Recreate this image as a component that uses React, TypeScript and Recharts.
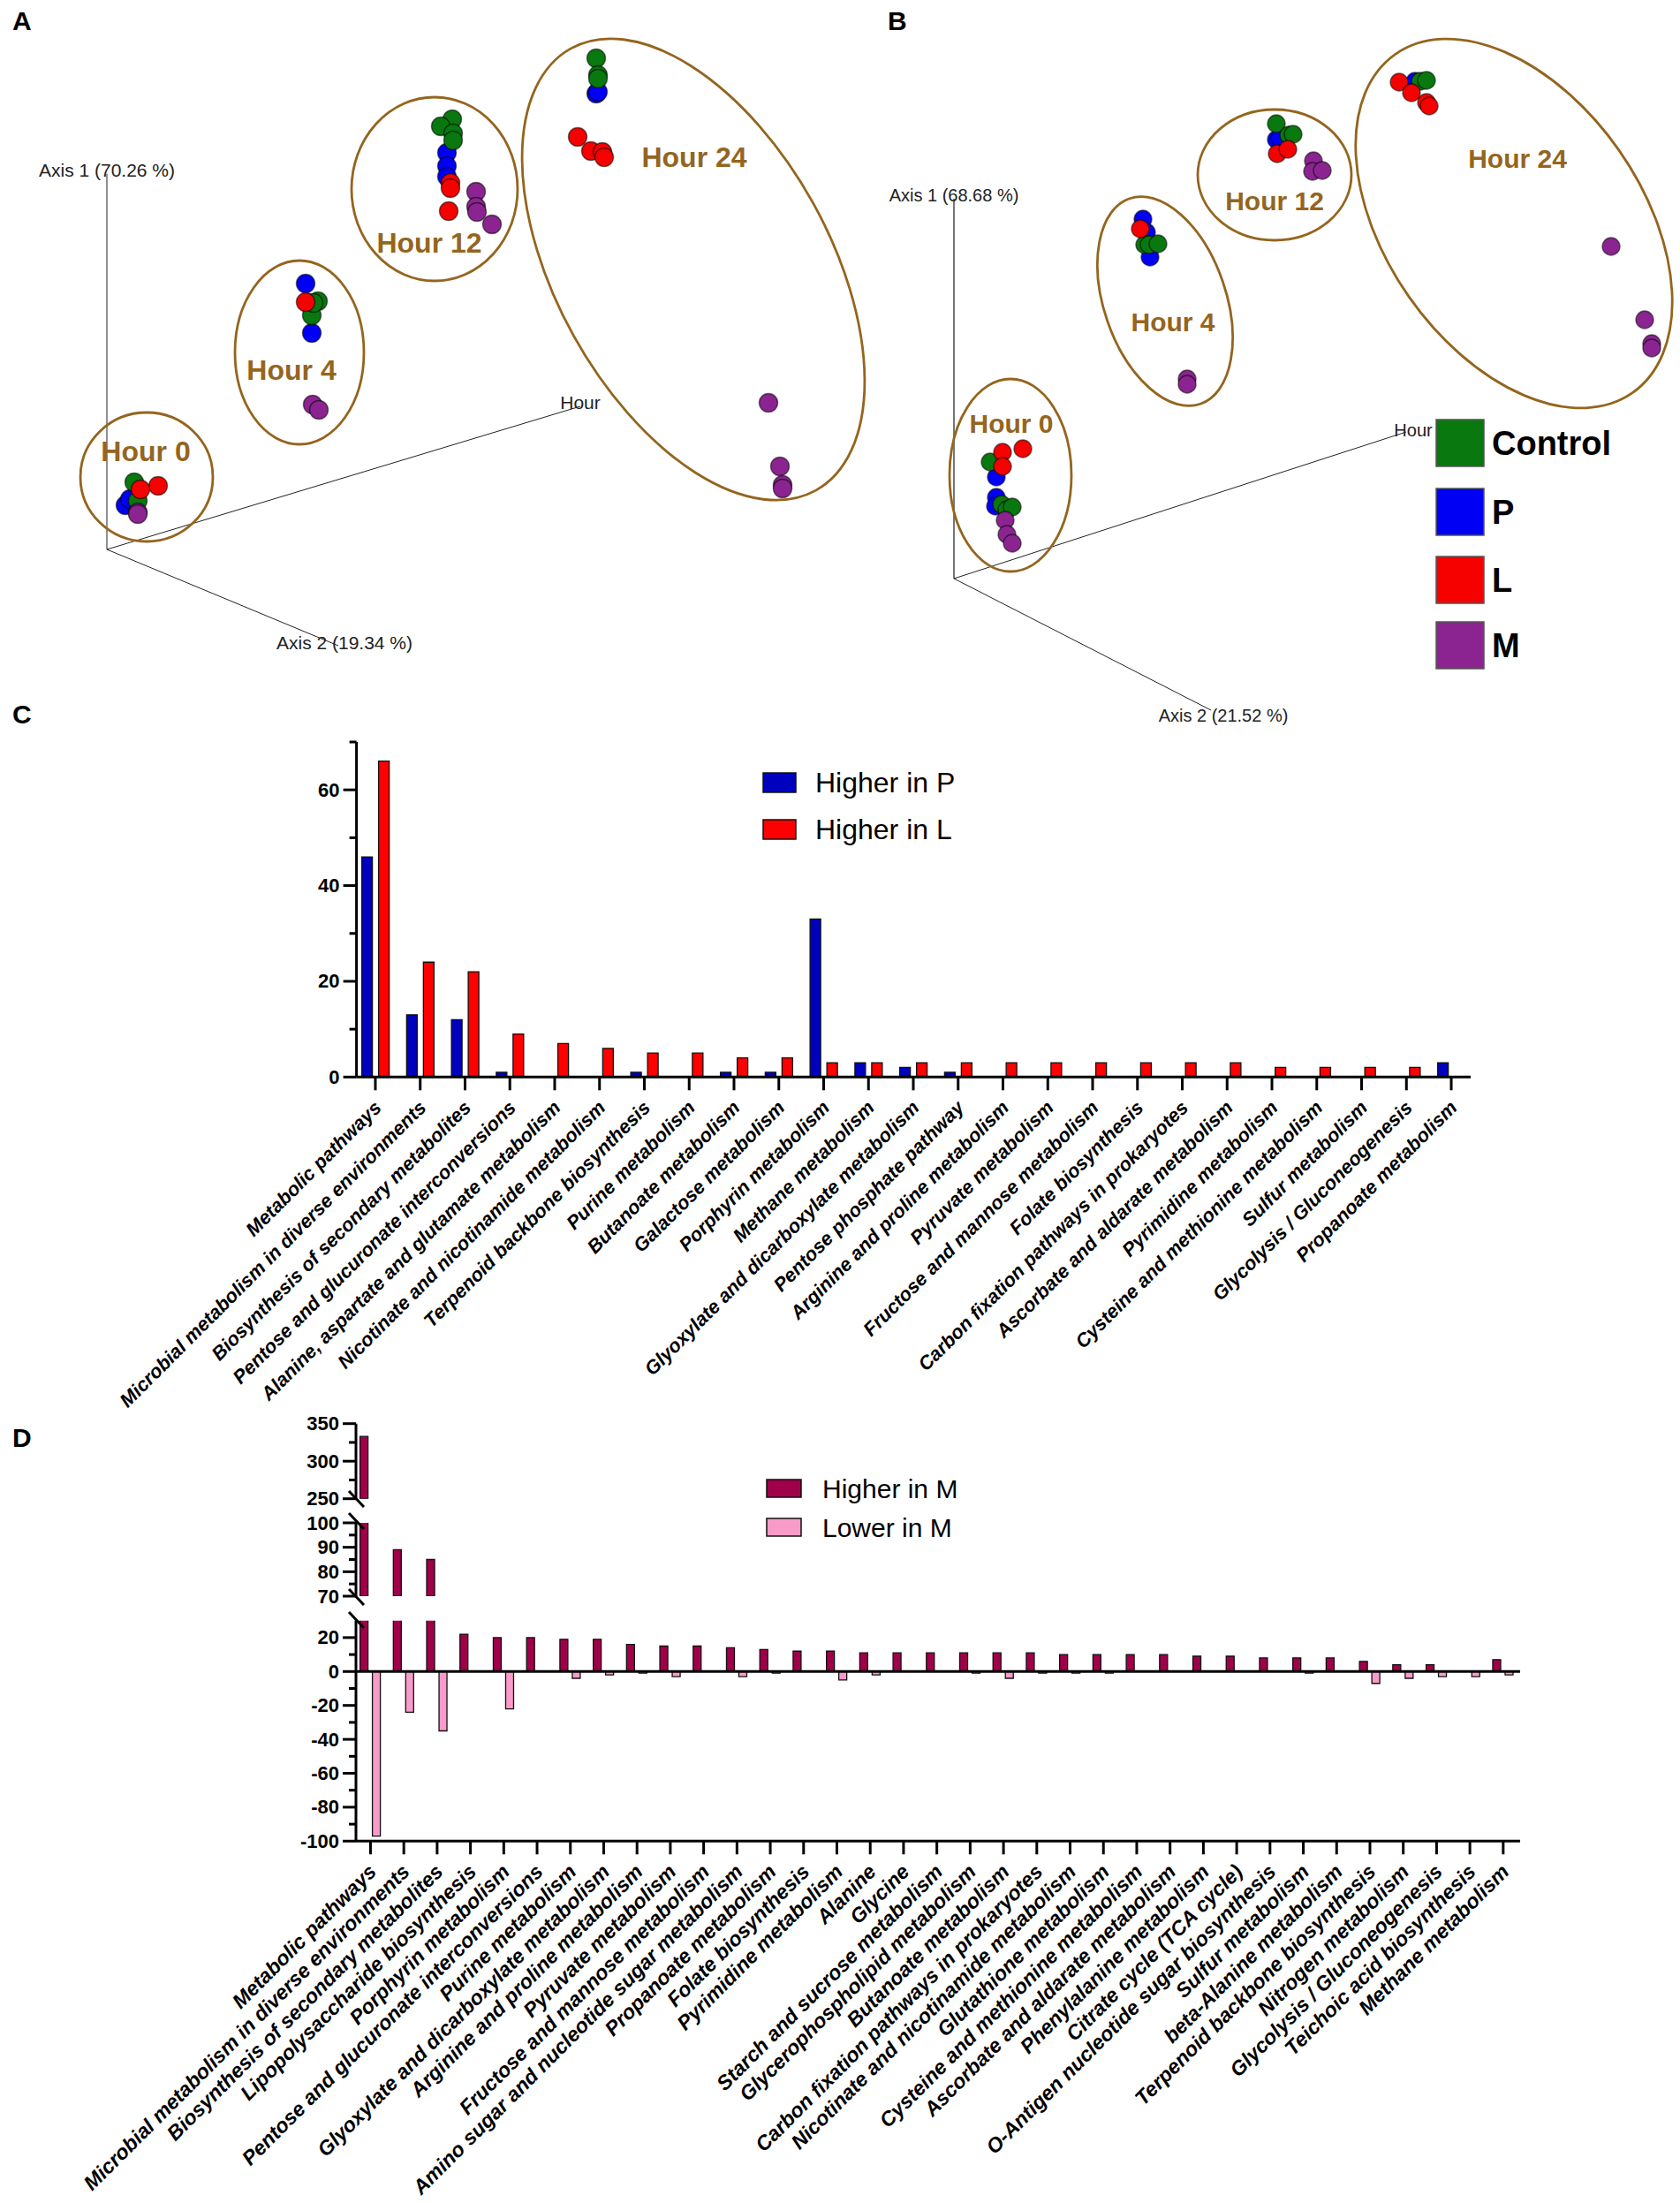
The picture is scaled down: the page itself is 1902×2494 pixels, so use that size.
import {
  BarChart,
  Bar,
  XAxis,
  YAxis,
  ScatterChart,
  Scatter,
  ReferenceLine,
  ReferenceDot,
} from "recharts";

type Pt = [number, number];

// PCoA projections (units: distance from the axes origin)
const greenA: Pt[] = [[31, 76], [35, 55], [239, 281], [232, 265], [234, 279], [391, 487], [378, 479], [392, 471], [392, 463], [554, 556], [556, 537], [556, 533]];
const blueA: Pt[] = [[21, 50], [26, 57], [225, 301], [228, 279], [232, 245], [385, 449], [385, 434], [385, 422], [554, 516], [556, 518]];
const redA: Pt[] = [[58, 72], [38, 68], [225, 280], [389, 415], [389, 409], [387, 383], [533, 467], [548, 451], [561, 450], [563, 444]];
const purpleA: Pt[] = [[35, 42], [35, 40], [233, 164], [240, 158], [418, 405], [418, 388], [419, 382], [436, 368], [749, 166], [762, 94], [765, 73], [765, 69]];

const greenB: Pt[] = [[41, 132], [54, 84], [60, 78], [66, 81], [216, 378], [221, 378], [231, 379], [365, 515], [379, 502], [384, 503], [528, 563], [535, 564]];
const blueB: Pt[] = [[48, 115], [48, 92], [47, 82], [214, 407], [218, 392], [222, 364], [365, 497], [369, 499], [522, 563]];
const redB: Pt[] = [[78, 147], [55, 143], [55, 127], [211, 396], [366, 481], [378, 486], [504, 562], [518, 550], [535, 539], [538, 535]];
const purpleB: Pt[] = [[58, 66], [60, 50], [66, 40], [264, 226], [264, 220], [407, 473], [406, 461], [417, 462], [744, 376], [782, 293], [790, 266], [790, 261]];

const categoriesC = [
  "Metabolic pathways",
  "Microbial metabolism in diverse environments",
  "Biosynthesis of secondary metabolites",
  "Pentose and glucuronate interconversions",
  "Alanine, aspartate and glutamate metabolism",
  "Nicotinate and nicotinamide metabolism",
  "Terpenoid backbone biosynthesis",
  "Purine metabolism",
  "Butanoate metabolism",
  "Galactose metabolism",
  "Porphyrin metabolism",
  "Methane metabolism",
  "Glyoxylate and dicarboxylate metabolism",
  "Pentose phosphate pathway",
  "Arginine and proline metabolism",
  "Pyruvate metabolism",
  "Fructose and mannose metabolism",
  "Folate biosynthesis",
  "Carbon fixation pathways in prokaryotes",
  "Ascorbate and aldarate metabolism",
  "Pyrimidine metabolism",
  "Cysteine and methionine metabolism",
  "Sulfur metabolism",
  "Glycolysis / Gluconeogenesis",
  "Propanoate metabolism",
];
const higherInP = [46, 13, 12, 1, 0, 0, 1, 0, 1, 1, 33, 3, 2, 1, 0, 0, 0, 0, 0, 0, 0, 0, 0, 0, 3];
const higherInL = [66, 24, 22, 9, 7, 6, 5, 5, 4, 4, 3, 3, 3, 3, 3, 3, 3, 3, 3, 3, 2, 2, 2, 2, 0];

const categoriesD = [
  "Metabolic pathways",
  "Microbial metabolism in diverse environments",
  "Biosynthesis of secondary metabolites",
  "Lipopolysaccharide biosynthesis",
  "Porphyrin metabolism",
  "Pentose and glucuronate interconversions",
  "Purine metabolism",
  "Glyoxylate and dicarboxylate metabolism",
  "Arginine and proline metabolism",
  "Pyruvate metabolism",
  "Fructose and mannose metabolism",
  "Amino sugar and nucleotide sugar metabolism",
  "Propanoate metabolism",
  "Folate biosynthesis",
  "Pyrimidine metabolism",
  "Alanine",
  "Glycine",
  "Starch and sucrose metabolism",
  "Glycerophospholipid metabolism",
  "Butanoate metabolism",
  "Carbon fixation pathways in prokaryotes",
  "Nicotinate and nicotinamide metabolism",
  "Glutathione metabolism",
  "Cysteine and methionine metabolism",
  "Ascorbate and aldarate metabolism",
  "Phenylalanine metabolism",
  "Citrate cycle (TCA cycle)",
  "O-Antigen nucleotide sugar biosynthesis",
  "Sulfur metabolism",
  "beta-Alanine metabolism",
  "Terpenoid backbone biosynthesis",
  "Nitrogen metabolism",
  "Glycolysis / Gluconeogenesis",
  "Teichoic acid biosynthesis",
  "Methane metabolism",
];
const higherInM = [333, 89, 85, 22, 20, 20, 19, 19, 16, 15, 15, 14, 13, 12, 12, 11, 11, 11, 11, 11, 11, 10, 10, 10, 10, 9, 9, 8, 8, 8, 6, 4, 4, 0, 7];
const lowerInM = [-97, -24, -35, 0, -22, 0, -4, -2, -1, -3, 0, -3, -1, 0, -5, -2, 0, 0, -1, -4, -1, -1, -1, 0, 0, 0, 0, 0, -1, 0, -7, -4, -3, -3, -2];

const tableC = categoriesC.map((name, i) => ({ name, p: higherInP[i], l: higherInL[i] }));

const FONT = "'Liberation Sans', Arial, sans-serif";
const BROWN = "#94651e";
const GROUP_COLORS = { control: "#08780f", p: "#0000f5", l: "#f60000", m: "#8b2490" };

const toPoints = (pts: Pt[]) => pts.map(([x, y]) => ({ x, y }));

function PointDot(props: any) {
  return (
    <circle
      cx={props.cx}
      cy={props.cy}
      r={props.r}
      fill={props.fill}
      stroke="#000"
      strokeOpacity={0.55}
      strokeWidth={1.4}
    />
  );
}

interface Hoop {
  label: string;
  cx: number;
  cy: number;
  rx: number;
  ry: number;
  angle: number;
  tx: number;
  ty: number;
}

const hoopsA: Hoop[] = [
  { label: "Hour 0", cx: 45, cy: 82, rx: 75, ry: 73, angle: 0, tx: 44, ty: 111 },
  { label: "Hour 4", cx: 218, cy: 223, rx: 73, ry: 104, angle: 0, tx: 209, ty: 203 },
  { label: "Hour 12", cx: 371, cy: 408, rx: 94, ry: 104, angle: 0, tx: 365, ty: 347 },
  { label: "Hour 24", cx: 664, cy: 317, rx: 286, ry: 155, angle: 61, tx: 665, ty: 444 },
];
const hoopsB: Hoop[] = [
  { label: "Hour 0", cx: 64, cy: 117, rx: 69, ry: 109, angle: 0, tx: 65, ty: 176 },
  { label: "Hour 4", cx: 239, cy: 314, rx: 123, ry: 69, angle: 71, tx: 248, ty: 291 },
  { label: "Hour 12", cx: 363, cy: 457, rx: 87, ry: 74, angle: 0, tx: 363, ty: 428 },
  { label: "Hour 24", cx: 634, cy: 402, rx: 234, ry: 145, angle: 55, tx: 638, ty: 476 },
];

interface PanelProps {
  left: number;
  top: number;
  width: number;
  height: number;
  originX: number;
  originY: number;
  groups: Pt[][];
  hoops: Hoop[];
  axisEnds: Pt[];
  axisTexts: { text: string; x: number; y: number; size: number }[];
  axisWidths: number[];
  hourSize: number;
  r: number;
}

function PcoaPanel(p: PanelProps) {
  const x0 = p.originX - p.left;
  const y0 = p.originY - p.top;
  const colors = [GROUP_COLORS.p, GROUP_COLORS.control, GROUP_COLORS.l, GROUP_COLORS.m];
  return (
    <div style={{ position: "absolute", left: p.left, top: p.top }}>
      <ScatterChart width={p.width} height={p.height} margin={{ top: 0, right: 0, bottom: 0, left: 0 }}>
        <XAxis type="number" dataKey="x" hide domain={[-x0, p.width - x0]} />
        <YAxis type="number" dataKey="y" hide domain={[y0 - p.height, y0]} />
        {p.axisEnds.map(([x, y], i) => (
          <ReferenceLine
            key={i}
            segment={[{ x: 0, y: 0 }, { x, y }]}
            stroke={p.axisWidths[i] > 1 ? "#777" : "#222"}
            strokeWidth={p.axisWidths[i]}
            ifOverflow="visible"
          />
        ))}
        {p.axisTexts.map((t) => (
          <ReferenceDot
            key={t.text}
            x={t.x}
            y={t.y}
            ifOverflow="visible"
            shape={(d: any) => (
              <text x={d.cx} y={d.cy} textAnchor="middle" dominantBaseline="central" fontFamily={FONT} fontSize={t.size} fill="#222">
                {t.text}
              </text>
            )}
          />
        ))}
        {p.groups.map((g, i) => (
          <Scatter
            key={i}
            data={toPoints(g)}
            fill={colors[i]}
            isAnimationActive={false}
            shape={(d: any) => <PointDot {...d} r={p.r} fill={colors[i]} />}
          />
        ))}
        {p.hoops.map((h) => (
          <ReferenceDot
            key={h.label}
            x={h.cx}
            y={h.cy}
            ifOverflow="visible"
            shape={(d: any) => (
              <ellipse
                cx={d.cx}
                cy={d.cy}
                rx={h.rx}
                ry={h.ry}
                transform={`rotate(${h.angle} ${d.cx} ${d.cy})`}
                fill="none"
                stroke={BROWN}
                strokeWidth={2.8}
              />
            )}
          />
        ))}
        {p.hoops.map((h) => (
          <ReferenceDot
            key={h.label + "-text"}
            x={h.tx}
            y={h.ty}
            ifOverflow="visible"
            shape={(d: any) => (
              <text x={d.cx} y={d.cy} textAnchor="middle" dominantBaseline="central" fontFamily={FONT} fontWeight="bold" fontSize={p.hourSize} fill={BROWN}>
                {h.label}
              </text>
            )}
          />
        ))}
      </ScatterChart>
    </div>
  );
}

function valueTick(labelled: number[]) {
  return function ValueTick({ x, y, payload }: any) {
    const major = labelled.includes(payload.value);
    return (
      <g>
        <line x1={x - (major ? 15 : 8)} x2={x} y1={y} y2={y} stroke="#000" strokeWidth={3} />
        {major && (
          <text x={x - 19} y={y} textAnchor="end" dominantBaseline="central" fontFamily={FONT} fontWeight="bold" fontSize={22} fill="#000">
            {payload.value}
          </text>
        )}
      </g>
    );
  };
}

function categoryTick(size: number, dx: number, dy: number) {
  return function CategoryTick({ x, y, payload }: any) {
    const tx = x + dx;
    const ty = y + dy;
    return (
      <g>
        <line x1={x} x2={x} y1={y} y2={y + 15} stroke="#000" strokeWidth={3} />
        <text
          x={tx}
          y={ty}
          transform={`rotate(-45 ${tx} ${ty})`}
          textAnchor="end"
          fontFamily={FONT}
          fontWeight="bold"
          fontStyle="italic"
          fontSize={size}
          fill="#000"
        >
          {payload.value}
        </text>
      </g>
    );
  };
}

const TICKS_C = [0, 10, 20, 30, 40, 50, 60, 70];
const TICKS_TOP = [250, 275, 300, 325, 350];
const TICKS_MID = [70, 75, 80, 85, 90, 95, 100];
const TICKS_LOW = [-100, -90, -80, -70, -60, -50, -40, -30, -20, -10, 0, 10, 20];

function PanelC() {
  return (
    <div style={{ position: "absolute", left: 0, top: 820 }}>
      <BarChart
        width={1902}
        height={790}
        data={tableC}
        barSize={12}
        barGap={7}
        margin={{ top: 20, right: 237, bottom: 350.7, left: 343.6 }}
      >
        <XAxis
          dataKey="name"
          height={40}
          interval={0}
          padding={{ left: -4, right: -3.4 }}
          tickSize={0}
          tickMargin={0}
          tickLine={false}
          tick={categoryTick(21.8, 8, 36)}
          axisLine={{ stroke: "#000", strokeWidth: 3 }}
        />
        <YAxis
          width={60}
          domain={[0, 70]}
          ticks={TICKS_C}
          interval={0}
          tickSize={0}
          tickMargin={0}
          tickLine={false}
          tick={valueTick([0, 20, 40, 60])}
          axisLine={{ stroke: "#000", strokeWidth: 3 }}
        />
        <Bar dataKey="p" fill="#0000bf" stroke="#111" strokeWidth={1.3} isAnimationActive={false} />
        <Bar dataKey="l" fill="#ff0000" stroke="#111" strokeWidth={1.3} isAnimationActive={false} />
      </BarChart>
    </div>
  );
}

interface SegmentProps {
  top: number;
  height: number;
  plotTop: number;
  plotBottom: number;
  domain: [number, number];
  ticks: number[];
  labelled: number[];
  showX?: boolean;
}

// One stretch of the broken value axis; bars that do not reach it stay out of its table
function SegmentD(s: SegmentProps) {
  const marginTop = s.plotTop - s.top;
  const below = s.top + s.height - s.plotBottom;
  const table = categoriesD.map((name, i) => ({
    name,
    up: higherInM[i] >= s.domain[0] ? higherInM[i] : null,
    down: s.showX ? lowerInM[i] : null,
  }));
  return (
    <div style={{ position: "absolute", left: 0, top: s.top }}>
      <BarChart
        width={1902}
        height={s.height}
        data={table}
        barSize={9}
        barGap={5}
        margin={{ top: marginTop, right: 181, bottom: s.showX ? below - 40 : below, left: 343 }}
      >
        <XAxis
          dataKey="name"
          hide={!s.showX}
          height={40}
          interval={0}
          padding={{ left: -2.4, right: 0.3 }}
          tickSize={0}
          tickMargin={0}
          tickLine={false}
          tick={categoryTick(23.2, 8, 36)}
          axisLine={{ stroke: "#000", strokeWidth: 3 }}
        />
        <YAxis
          width={60}
          domain={s.domain}
          allowDataOverflow
          ticks={s.ticks}
          interval={0}
          tickSize={0}
          tickMargin={0}
          tickLine={false}
          tick={valueTick(s.labelled)}
          axisLine={{ stroke: "#000", strokeWidth: 3 }}
        />
        {s.showX && <ReferenceLine y={0} stroke="#000" strokeWidth={3} />}
        <Bar dataKey="up" fill="#a0004a" stroke="#111" strokeWidth={1.3} isAnimationActive={false} />
        <Bar dataKey="down" fill="#f99bc8" stroke="#111" strokeWidth={1.3} isAnimationActive={false} />
      </BarChart>
    </div>
  );
}

const legendC = [
  { name: "Higher in P", fill: "#0000bf", y: 875 },
  { name: "Higher in L", fill: "#ff0000", y: 928 },
];
const legendD = [
  { name: "Higher in M", fill: "#a0004a", y: 1675 },
  { name: "Lower in M", fill: "#f99bc8", y: 1719 },
];
const legendGroups = [
  { name: "Control", fill: GROUP_COLORS.control, y: 475 },
  { name: "P", fill: GROUP_COLORS.p, y: 553 },
  { name: "L", fill: GROUP_COLORS.l, y: 630 },
  { name: "M", fill: GROUP_COLORS.m, y: 704 },
];
const panelLetters = [
  { t: "A", x: 14, y: 34 },
  { t: "B", x: 1005, y: 34 },
  { t: "C", x: 14, y: 819 },
  { t: "D", x: 14, y: 1638 },
];
const breakMarksY = [1688, 1713, 1799, 1825];

function Overlay() {
  return (
    <svg width={1902} height={2494} style={{ position: "absolute", left: 0, top: 0, pointerEvents: "none" }}>
      {panelLetters.map((l) => (
        <text key={l.t} x={l.x} y={l.y} fontFamily={FONT} fontWeight="bold" fontSize={30}>
          {l.t}
        </text>
      ))}
      {legendGroups.map((g) => (
        <g key={g.name}>
          <rect x={1626} y={g.y} width={54} height={53} fill={g.fill} stroke="#555" strokeWidth={1.5} />
          <text x={1689} y={g.y + 27} dominantBaseline="central" fontFamily={FONT} fontWeight="bold" fontSize={38}>
            {g.name}
          </text>
        </g>
      ))}
      {legendC.map((g) => (
        <g key={g.name}>
          <rect x={864} y={g.y} width={37} height={22} fill={g.fill} stroke="#111" strokeWidth={1.5} />
          <text x={923} y={g.y + 11} dominantBaseline="central" fontFamily={FONT} fontSize={32}>
            {g.name}
          </text>
        </g>
      ))}
      {legendD.map((g) => (
        <g key={g.name}>
          <rect x={868} y={g.y} width={39} height={20} fill={g.fill} stroke="#111" strokeWidth={1.5} />
          <text x={931} y={g.y + 10} dominantBaseline="central" fontFamily={FONT} fontSize={30}>
            {g.name}
          </text>
        </g>
      ))}
      {breakMarksY.map((y) => (
        <line key={y} x1={395} y1={y} x2={412} y2={y + 18} stroke="#000" strokeWidth={3} />
      ))}
    </svg>
  );
}

export default function App() {
  return (
    <div style={{ position: "absolute", left: 0, top: 0, width: 1902, height: 2494, background: "#fff" }}>
      <PcoaPanel
        left={0}
        top={0}
        width={1000}
        height={780}
        originX={121}
        originY={622}
        groups={[blueA, greenA, redA, purpleA]}
        hoops={hoopsA}
        axisEnds={[[0, 425], [262, -109], [536, 162]]}
        axisWidths={[1, 1, 1]}
        axisTexts={[
          { text: "Axis 1 (70.26 %)", x: 0, y: 430, size: 21 },
          { text: "Axis 2 (19.34 %)", x: 269, y: -105, size: 21 },
          { text: "Hour", x: 536, y: 167, size: 21 },
        ]}
        hourSize={32}
        r={10.5}
      />
      <PcoaPanel
        left={1000}
        top={0}
        width={902}
        height={830}
        originX={1080}
        originY={655}
        groups={[blueB, greenB, redB, purpleB]}
        hoops={hoopsB}
        axisEnds={[[0, 430], [291, -149], [512, 166]]}
        axisWidths={[2, 1, 1]}
        axisTexts={[
          { text: "Axis 1 (68.68 %)", x: 0, y: 434, size: 20 },
          { text: "Axis 2 (21.52 %)", x: 305, y: -155, size: 20 },
          { text: "Hour", x: 520, y: 168, size: 20 },
        ]}
        hourSize={30}
        r={10}
      />
      <PanelC />
      <SegmentD top={1598} height={115} plotTop={1611.7} plotBottom={1696.7} domain={[250, 350]} ticks={TICKS_TOP} labelled={[250, 300, 350]} />
      <SegmentD top={1708} height={115} plotTop={1724} plotBottom={1807} domain={[70, 100]} ticks={TICKS_MID} labelled={[70, 80, 90, 100]} />
      <SegmentD top={1825} height={669} plotTop={1834.7} plotBottom={2084.3} domain={[-100, 30]} ticks={TICKS_LOW} labelled={[-100, -80, -60, -40, -20, 0, 20]} showX />
      <Overlay />
    </div>
  );
}
